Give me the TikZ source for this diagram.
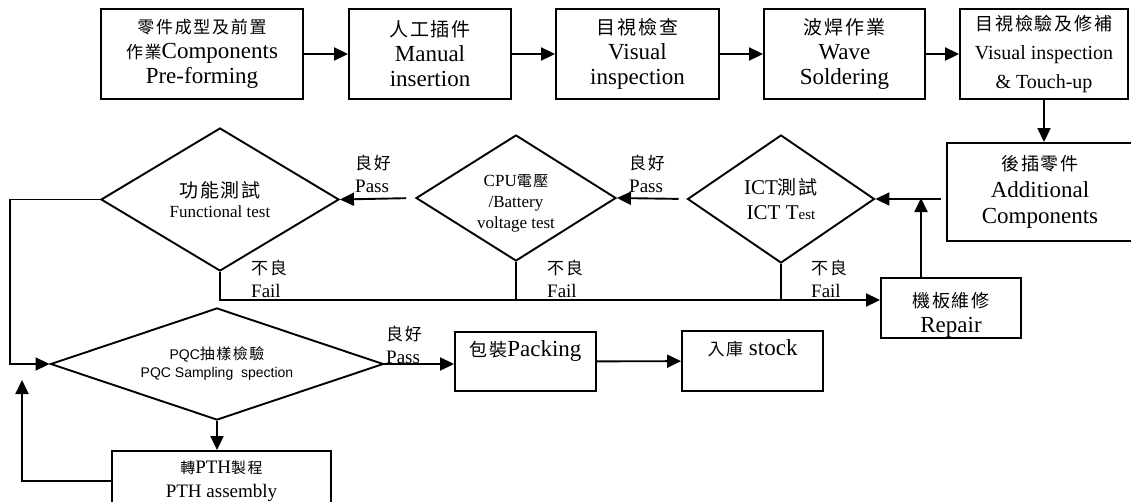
\documentclass[tikz,border=0pt]{standalone}
\usepackage{fontspec}
\setmainfont{Liberation Serif}
\newfontfamily\cjk{Noto Sans CJK TC}[LetterSpace=10]
\newfontfamily\arialfont{Liberation Sans}
\usetikzlibrary{shapes.geometric,arrows.meta}
\newcommand{\zh}[2]{{\fontsize{#1}{#1}\selectfont\cjk #2}}

\begin{document}
\begin{tikzpicture}[x=1pt,y=-1pt,
  procbox/.style={draw,line width=1.9pt,rectangle,inner sep=0pt,align=center,minimum height=90pt,font=\fontsize{23}{25}\selectfont},
  testdiamond/.style={draw,line width=1.9pt,diamond,aspect=1.6,inner sep=0pt,align=center},
  flow/.style={draw,line width=1.9pt,-{Triangle[length=14pt,width=13pt]}},
  bus/.style={draw,line width=1.9pt},
  passlabel/.style={anchor=west,align=left,inner sep=0pt,font=\fontsize{19}{23}\selectfont}]
\useasboundingbox (0,0) rectangle (1131,501);

\node[procbox,minimum width=202pt] (comp) at (202,54) {\zh{17}{零件成型及前置}\\\zh{17}{作業}Components\\Pre-forming};
\node[procbox,minimum width=162pt] (manual) at (430,54) {\zh{19}{人工插件}\\Manual\\insertion};
\node[procbox,minimum width=163pt] (visual) at (637.5,54) {\zh{19}{目視檢查}\\Visual\\inspection};
\node[procbox,minimum width=161pt] (wave) at (844.5,54) {\zh{19}{波焊作業}\\Wave\\Soldering};
\node[procbox,minimum width=168pt,font=\fontsize{20}{29}\selectfont] (touch) at (1044,54) {\zh{18}{目視檢驗及修補}\\Visual inspection\\\& Touch-up};
\node[procbox,minimum width=186pt,minimum height=98pt,font=\fontsize{23}{26.5}\selectfont] (addc) at (1040,192) {\zh{18}{後插零件}\\Additional\\Components};
\node[procbox,minimum width=140pt,minimum height=60pt] (repair) at (951,308) {\rule{0pt}{28pt}\zh{18}{機板維修}\\Repair};
\node[procbox,minimum width=141pt,minimum height=59pt] (pack) at (525.5,361.5) {\zh{18}{包裝}Packing\\[-6pt]\strut};
\node[procbox,minimum width=141pt,minimum height=60pt] (stock) at (752.5,361) {\zh{17}{入庫} stock\\[-6pt]\strut};
\node[procbox,minimum width=219pt,minimum height=60pt,font=\fontsize{19}{24}\selectfont] (pth) at (221.5,481) {\zh{15}{轉}PTH\zh{15}{製程}\\PTH assembly};

\node[testdiamond,minimum width=238pt,minimum height=143pt,font=\fontsize{17}{20}\selectfont] (func) at (220,199.5) {\zh{19}{功能測試}\\Functional test};
\node[testdiamond,minimum width=200pt,minimum height=126pt,font=\fontsize{17}{21}\selectfont] (cpu) at (516,198) {\rule{0pt}{22pt}CPU\zh{15}{電壓}\\/Battery\\voltage test};
\node[testdiamond,minimum width=187pt,minimum height=128pt,font=\fontsize{21}{25}\selectfont] (ict) at (781,199) {ICT\zh{19}{測試}\\ICT T{\fontsize{15}{15}\selectfont est}};
\node[testdiamond,minimum width=333pt,minimum height=112pt,aspect=3,font=\arialfont\fontsize{14}{18}\selectfont] (pqc) at (217,364) {PQC\zh{15}{抽樣檢驗}\\PQC Sampling\ \ spection};

\node[passlabel] (passfc) at (355,173.5) {\zh{17}{良好}\\Pass};
\node[passlabel] (passci) at (629,173.5) {\zh{17}{良好}\\Pass};
\node[passlabel] (passpq) at (386,345) {\zh{17}{良好}\\Pass};
\node[passlabel] (failf) at (251,278.5) {\zh{17}{不良}\\Fail};
\node[passlabel] (failc) at (547,278.5) {\zh{17}{不良}\\Fail};
\node[passlabel] (faili) at (811,278.5) {\zh{17}{不良}\\Fail};

\coordinate (fbus) at (0,300);
\coordinate (lbus) at (10,0);
\coordinate (rjoin) at (921,198);
\coordinate (rback) at (22,380);

\path[flow] (comp) -- (manual);
\path[flow] (manual) -- (visual);
\path[flow] (visual) -- (wave);
\path[flow] (wave) -- (touch);
\path[flow] (touch.south) -- (touch.south |- addc.north);
\path[flow,shorten <=5pt] (addc.west |- ict.east) -- (ict.east);
\path[flow] (repair.north -| rjoin) -- (rjoin);
\path[flow,shorten <=8pt] (ict.west) -- (cpu.east);
\path[flow,shorten <=9pt] (cpu.west) -- (func.east);
\path[flow] (func.south) |- (repair.west |- fbus);
\path[bus] (cpu.south) -- (cpu.south |- fbus);
\path[bus] (ict.south) -- (ict.south |- fbus);
\path[flow] (func.west) -- (func.west -| lbus) -- (lbus |- pqc.west) -- (pqc.west);
\path[flow] (pqc.east) -- (pqc.east -| pack.west);
\path[flow] (pack) -- (stock);
\path[flow] (pqc.south) -- (pqc.south |- pth.north);
\path[flow] (pth.west) -| (rback);
\end{tikzpicture}
\end{document}
